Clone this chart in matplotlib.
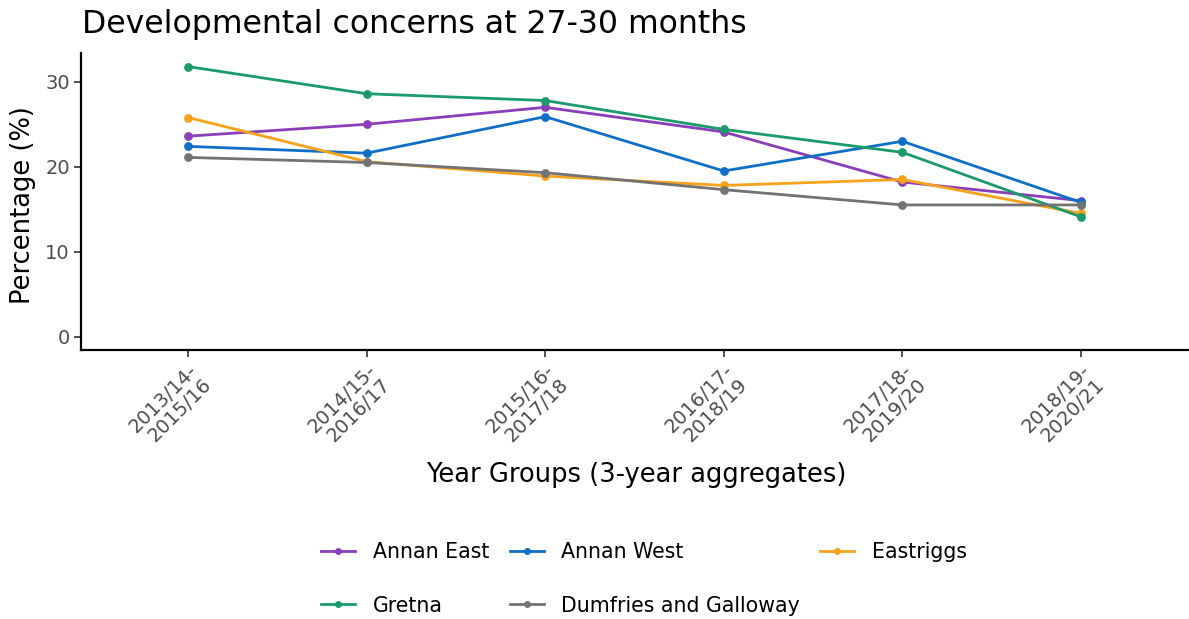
import matplotlib
matplotlib.use("Agg")
import matplotlib.pyplot as plt

plt.rcParams['font.family'] = ['DejaVu Sans']

year_groups = ["2013/14-\n2015/16", "2014/15-\n2016/17", "2015/16-\n2017/18",
               "2016/17-\n2018/19", "2017/18-\n2019/20", "2018/19-\n2020/21"]

annan_east = [23.6, 25.0, 27.0, 24.1, 18.2, 16.0]
annan_west = [22.4, 21.6, 25.9, 19.5, 23.0, 15.8]
eastriggs = [25.8, 20.6, 18.9, 17.8, 18.5, 14.5]
gretna = [31.8, 28.6, 27.8, 24.4, 21.7, 14.1]
dumfries_galloway = [21.1, 20.5, 19.3, 17.3, 15.5, 15.5]

series_names = ["Annan East", "Annan West", "Eastriggs", "Gretna", "Dumfries and Galloway"]
series_values = [annan_east, annan_west, eastriggs, gretna, dumfries_galloway]
series_colors = ["#8A3FB8", "#0F6FC6", "#F7A21B", "#1B9A6C", "#737373"]

fig = plt.figure(figsize=(11.89, 6.19), dpi=100)
ax = fig.add_axes([81/1189, 1-350/619, (1188-81)/1189, (350-53)/619])

x = list(range(len(year_groups)))
handles = {}
for name, vals, col in zip(series_names, series_values, series_colors):
    h, = ax.plot(x, vals, color=col, lw=2.0, marker='o', ms=5.3, label=name)
    handles[name] = h

ax.set_xlim(-0.6, len(year_groups) - 1 + 0.6)
ax.set_ylim(-1.59, 33.4)
ax.set_yticks([0, 10, 20, 30])
ax.set_xticks(x)
ax.set_xticklabels(year_groups, rotation=45, ha='right', va='top',
                   rotation_mode='anchor', fontsize=14, color='#4D4D4D',
                   linespacing=1.05)
ax.tick_params(axis='y', labelsize=14, labelcolor='#4D4D4D')
ax.tick_params(axis='both', direction='out', length=5, width=1.1, color='#222222', pad=3)

for s in ['top', 'right']:
    ax.spines[s].set_visible(False)
for s in ['left', 'bottom']:
    ax.spines[s].set_linewidth(1.6)
    ax.spines[s].set_color('black')

fig.text(23/1189, 1-205/619, "Percentage (%)", rotation=90,
         fontsize=18.5, ha='center', va='center')
fig.text(82/1189, 1-33/619, "Developmental concerns at 27-30 months",
         fontsize=22.7, ha='left', va='baseline')
fig.text(636/1189, 1-475/619, "Year Groups (3-year aggregates)",
         fontsize=18.5, ha='center', va='center')

order = ["Annan East", "Gretna", "Annan West", "Dumfries and Galloway", "Eastriggs"]
leg = fig.legend([handles[n] for n in order], order, loc='center',
                 bbox_to_anchor=(644/1189, 1-579/619), ncol=3, frameon=False,
                 fontsize=14.8, handlelength=1.65, handletextpad=0.85,
                 columnspacing=1.0, labelspacing=1.62, markerscale=0.75)

fig.savefig("out.png", dpi=100)
